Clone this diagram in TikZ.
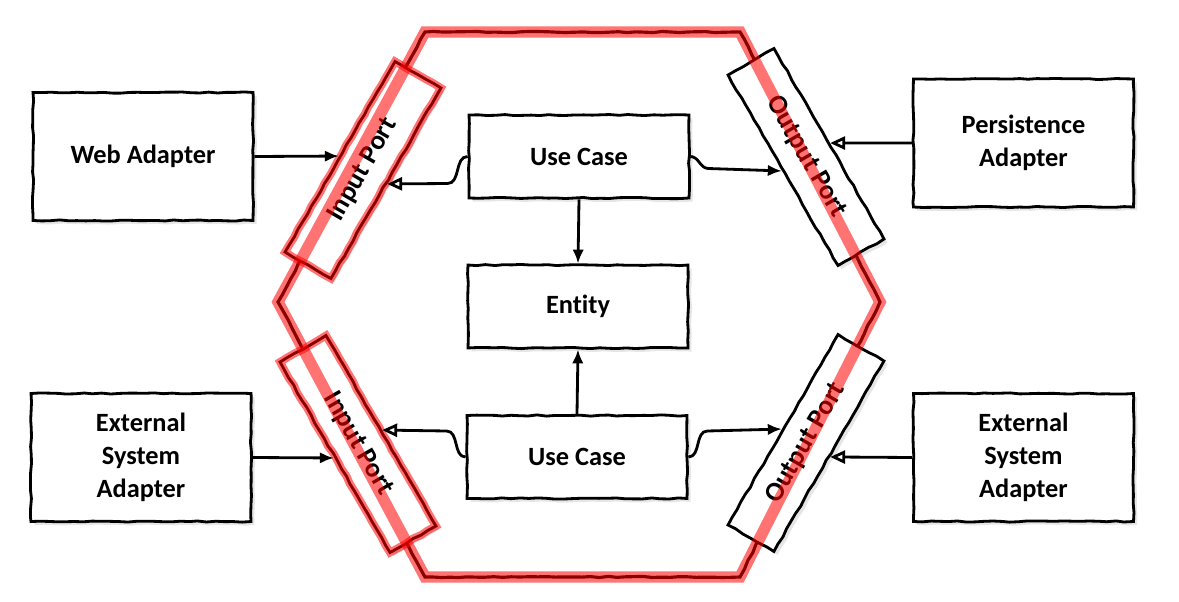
\documentclass[tikz,border=0pt]{standalone}
\usepackage{fontspec}
\setmainfont{Carlito}[Ligatures=NoCommon]
\usetikzlibrary{arrows.meta,shadows,decorations.pathmorphing}
\tikzset{every picture/.style={line width=1.1pt}}

\begin{document}
\begin{tikzpicture}[x=0.2mm, y=-0.2mm, >={Latex[length=2.8mm,width=2.3mm]},
    every node/.style={font=\fontsize{15}{18.7}\selectfont\bfseries},
    sketch/.style={decorate, decoration={random steps, segment length=5pt, amplitude=0.35pt}},
    box/.style={draw, sketch, line width=1.6pt, fill=white, align=center, inner sep=2pt,
        drop shadow={shadow xshift=0.7mm, shadow yshift=-0.7mm, opacity=0.2}},
    adapter/.style={box, minimum width=44mm, minimum height=25.6mm},
    core/.style={box, minimum width=44mm, minimum height=16.6mm},
    port/.style={box, minimum width=44mm, minimum height=10.6mm,
        font=\fontsize{15.5}{18}\selectfont\bfseries},
    inport/.style={port, postaction={draw=red, draw opacity=0.55, line width=4.5pt}},
    band/.style={draw=red, draw opacity=0.55, line width=6.5pt},
    conn/.style={line width=1.6pt},
    implements/.style={conn, -{Triangle[open,length=3mm,width=2.6mm]}}]
    \useasboundingbox (0,0) rectangle (1179,601);
    % hexagon corners
    \coordinate (h1) at (425,32);
    \coordinate (h2) at (740,32);
    \coordinate (h3) at (880,302);
    \coordinate (h4) at (740,577);
    \coordinate (h5) at (425,577);
    \coordinate (h6) at (278,302);
    \draw[sketch, line width=1.8pt] (h1) -- (h2) -- (h3) -- (h4) -- (h5) -- (h6) -- cycle;

    % adapters
    \node[adapter] (web)  at (143,156.5)  {Web Adapter};
    \node[adapter] (pers) at (1023.5,143) {Persistence\\Adapter};
    \node[adapter] (extL) at (141,457.5)  {External\\System\\Adapter};
    \node[adapter] (extR) at (1023.5,457.5) {External\\System\\Adapter};

    % application core
    \node[core] (uc1) at (579,156.5) {Use Case};
    \node[core] (ent) at (578,306.5) {Entity};
    \node[core] (uc2) at (577,457)   {Use Case};

    % ports
    \node[inport, rotate=60]  (inTop)  at (363,170) {Input Port};
    \node[inport, rotate=-60] (inBot)  at (358,444) {Input Port};
    \node[port, rotate=-60]   (outTop) at (806,157) {Output Port};
    \node[port, rotate=60]    (outBot) at (806,443) {Output Port};

    \draw[conn, ->] (web.east) -- (inTop.north);
    \draw[conn, ->] (extL.east) -- (inBot.south);
    \draw[implements] (pers.west) -- (outTop.north);
    \draw[implements] (extR.west) -- (outBot.south);
    \draw[conn, ->] (uc1.south) -- (ent.north);
    \draw[conn, ->] (uc2.north) -- (ent.south);
    \draw[implements] (uc1.west) to[out=180,in=0] +(-20,27) -- (inTop.south);
    \draw[conn, ->] (uc1.east) to[out=0,in=180] +(18,12) -- (outTop.south);
    \draw[implements] (uc2.west) to[out=180,in=0] +(-19,-26) -- (inBot.north);
    \draw[conn, ->] (uc2.east) to[out=0,in=180] +(19,-26) -- (outBot.north);

    % red highlight over the hexagon
    \draw[band] (h1) -- (h2) -- (h3) -- (h4) -- (h5) -- (h6) -- cycle;
\end{tikzpicture}
\end{document}
